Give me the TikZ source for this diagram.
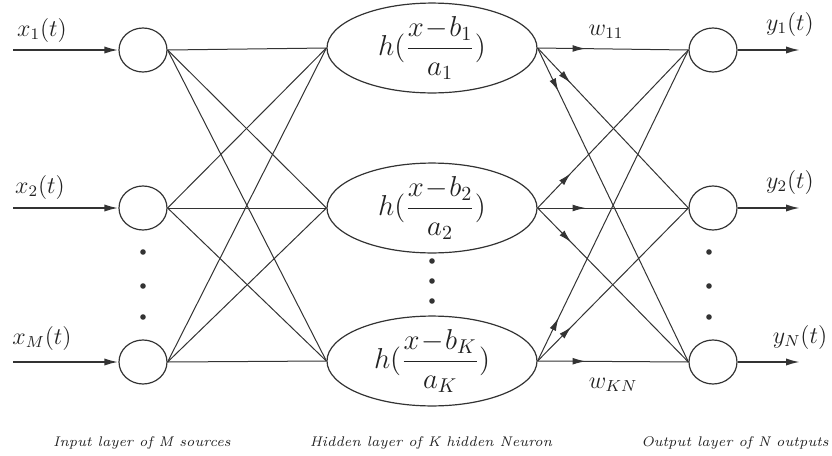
\documentclass[tikz,border=0pt]{standalone}
\usepackage{amsmath}
\usepackage{xcolor}
\usepackage{tikz}
\usetikzlibrary{arrows.meta,shapes.geometric,decorations.markings}
\definecolor{netLine}{HTML}{333333}
\definecolor{netText}{HTML}{222222}
\tikzset{
  unitnode/.style={ellipse, draw=netLine, line width=0.6pt, minimum width=24pt, minimum height=22pt, inner sep=0pt},
  hiddennode/.style={ellipse, draw=netLine, line width=0.6pt, minimum width=105pt, minimum height=41pt, inner sep=0pt, font=\Large, text=netText},
  linkline/.style={line width=0.5pt, draw=netLine},
  iolink/.style={-{Latex[length=7pt,width=3.6pt]}, line width=0.9pt, draw=netLine},
  weightlink/.style={line width=0.5pt, draw=netLine, postaction={decorate},
    decoration={markings, mark=at position 24pt with {\arrow{Latex[length=6.5pt,width=3.4pt]}}}},
  sigLabel/.style={font=\large, text=netText, inner sep=0pt},
  layerLabel/.style={font=\scriptsize\itshape, text=netText, inner sep=0pt},
  ellipdot/.style={fill=netLine},
}

\begin{document}
\begin{tikzpicture}[x=0.5pt,y=-0.5pt]
  \useasboundingbox (0,0) rectangle (832,456);

  % input layer
  \node[unitnode] (in1) at (143,50) {};
  \node[unitnode] (in2) at (143,208) {};
  \node[unitnode] (inM) at (143,362) {};

  % hidden layer
  \node[hiddennode] (hid1) at (432,48) {$h(\dfrac{x\!-\!b_1}{a_1})$};
  \node[hiddennode] (hid2) at (432,208) {$h(\dfrac{x\!-\!b_2}{a_2})$};
  \node[hiddennode] (hidK) at (432,361) {$h(\dfrac{x\!-\!b_K}{a_K})$};

  % output layer
  \node[unitnode] (out1) at (713,50) {};
  \node[unitnode] (out2) at (713,208) {};
  \node[unitnode] (outN) at (713,362) {};

  % input signals
  \coordinate (src1) at (13,50);
  \coordinate (src2) at (13,208);
  \coordinate (srcM) at (13,362);
  \node[sigLabel] (lx1) at (42,30) {$x_1(t)$};
  \node[sigLabel] (lx2) at (40,187) {$x_2(t)$};
  \node[sigLabel] (lxM) at (42,338) {$x_M(t)$};
  \draw[iolink] (src1) -- (in1.west);
  \draw[iolink] (src2) -- (in2.west);
  \draw[iolink] (srcM) -- (inM.west);

  % input -> hidden
  \draw[linkline] (in1.east) -- (hid1.west);
  \draw[linkline] (in1.east) -- (hid2.west);
  \draw[linkline] (in1.east) -- (hidK.west);
  \draw[linkline] (in2.east) -- (hid1.west);
  \draw[linkline] (in2.east) -- (hid2.west);
  \draw[linkline] (in2.east) -- (hidK.west);
  \draw[linkline] (inM.east) -- (hid1.west);
  \draw[linkline] (inM.east) -- (hid2.west);
  \draw[linkline] (inM.east) -- (hidK.west);

  % hidden -> output (weights)
  \draw[weightlink] (hid1.east) -- (out1.west);
  \draw[weightlink] (hid1.east) -- (out2.west);
  \draw[weightlink] (hid1.east) -- (outN.west);
  \draw[weightlink] (hid2.east) -- (out1.west);
  \draw[weightlink] (hid2.east) -- (out2.west);
  \draw[weightlink] (hid2.east) -- (outN.west);
  \draw[weightlink] (hidK.east) -- (out1.west);
  \draw[weightlink] (hidK.east) -- (out2.west);
  \draw[weightlink] (hidK.east) -- (outN.west);
  \node[sigLabel] (lw11) at (606,32) {$w_{11}$};
  \node[sigLabel] (lwKN) at (613,385) {$w_{KN}$};

  % output signals
  \coordinate (snk1) at (800,50);
  \coordinate (snk2) at (800,208);
  \coordinate (snkN) at (800,362);
  \draw[iolink] (out1.east) -- (snk1);
  \draw[iolink] (out2.east) -- (snk2);
  \draw[iolink] (outN.east) -- (snkN);
  \node[sigLabel] (ly1) at (790,24) {$y_1(t)$};
  \node[sigLabel] (ly2) at (790,182) {$y_2(t)$};
  \node[sigLabel] (lyN) at (800,337) {$y_N(t)$};

  % ellipsis dots
  \fill[ellipdot] (143,252) circle (1.4pt) (143,286) circle (1.4pt) (143,317) circle (1.4pt);
  \fill[ellipdot] (432,261) circle (1.4pt) (432,281) circle (1.4pt) (432,301) circle (1.4pt);
  \fill[ellipdot] (709,252) circle (1.4pt) (709,286) circle (1.4pt) (709,317) circle (1.4pt);

  % layer captions
  \node[layerLabel] (capIn) at (142,443) {Input layer of M sources};
  \node[layerLabel] (capHid) at (431,443) {Hidden layer of K hidden Neuron};
  \node[layerLabel] (capOut) at (735,443) {Output layer of N outputs};
\end{tikzpicture}
\end{document}
